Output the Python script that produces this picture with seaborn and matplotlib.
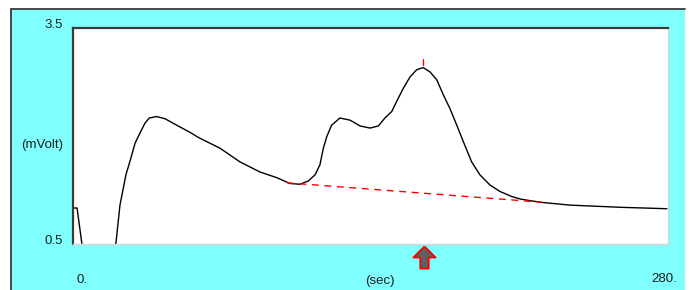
import matplotlib
matplotlib.use("Agg")
import matplotlib.pyplot as plt
import matplotlib.transforms as mtransforms
from matplotlib.path import Path
from matplotlib.lines import Line2D
import numpy as np
import pandas as pd
import seaborn as sns

# signal trace (sec, mVolt)
time_s = [0.0, 1.9, 4.2, 12.0, 20.2, 22.1, 24.9, 27.2, 29.2, 31.5, 33.9, 35.9,
          39.4, 43.3, 48.8, 55.1, 59.0, 69.2, 78.6, 88.0, 96.0, 102.1, 106.8,
          110.7, 113.9, 116.2, 117.8, 119.4, 121.7, 125.6, 130.4, 135.1, 139.8,
          143.7, 146.8, 150.0, 152.3, 155.4, 158.6, 161.7, 164.8, 168.0, 171.2,
          174.3, 177.4, 180.6, 183.7, 187.6, 191.5, 196.2, 200.9, 206.4, 210.4,
          219.8, 233.9, 257.4, 279.5]
signal_mv = [1.0, 1.0, 0.5, 0.1, 0.51, 1.04, 1.46, 1.69, 1.90, 2.04, 2.18, 2.25,
             2.27, 2.24, 2.15, 2.05, 1.98, 1.83, 1.64, 1.50, 1.42, 1.34, 1.33,
             1.375, 1.46, 1.60, 1.83, 1.99, 2.15, 2.25, 2.22, 2.14, 2.11,
             2.14, 2.25, 2.34, 2.48, 2.66, 2.82, 2.92, 2.95, 2.89, 2.78,
             2.57, 2.38, 2.15, 1.92, 1.64, 1.46, 1.32, 1.23, 1.16, 1.125,
             1.08, 1.04, 1.01, 0.99]

# integration baseline (start, end)
base_t = [100.7, 220.7]
base_mv = [1.35, 1.08]

x_range = [0, 280]
y_range = [0.5, 3.5]
x_labels = ["0.", "(sec)", "280."]
y_labels = ["3.5", "(mVolt)", "0.5"]

CYAN = "#80ffff"
DARK = "#3a3a3a"
TXT = "#1e1e1e"

sns.set_style("white")
plt.rcParams["font.family"] = ["Liberation Sans", "DejaVu Sans"]

W, H = 689, 290
fig = plt.figure(figsize=(W / 100, H / 100), dpi=100)
fig.patch.set_facecolor("white")

# cyan panel with dark left/top border
fig.patches.append(plt.Rectangle((11 / W, 0), (685 - 11) / W, (H - 9) / H,
                                 transform=fig.transFigure, facecolor=CYAN,
                                 edgecolor="none", zorder=-5))
fig.add_artist(Line2D([11 / W, 11 / W], [0, (H - 9) / H], color=DARK, lw=1.3,
                      transform=fig.transFigure))
fig.add_artist(Line2D([11 / W, 685 / W], [(H - 9) / H, (H - 9) / H], color=DARK,
                      lw=1.3, transform=fig.transFigure))

ax = fig.add_axes([73 / W, (H - 244) / H, 595 / W, 216 / H])
ax.set_zorder(1)
ax.set_facecolor("white")

df = pd.DataFrame({"t": time_s, "mv": signal_mv})
sns.lineplot(data=df, x="t", y="mv", color="black", lw=1.0, ax=ax)
sns.lineplot(x=base_t, y=base_mv, color="red", lw=1.0, ax=ax,
             linestyle=(0, (5, 4)))

# red peak tick above apex
pk = int(np.argmax(signal_mv))
ax.plot([time_s[pk], time_s[pk]], [signal_mv[pk] + 0.04, signal_mv[pk] + 0.12],
        color="red", lw=1.0)

ax.set_xlim(x_range)
ax.set_ylim(y_range)
ax.set_xticks([])
ax.set_yticks([])
ax.set_xlabel("")
ax.set_ylabel("")

for side in ["top", "left"]:
    ax.spines[side].set_color(DARK)
    ax.spines[side].set_linewidth(1.6)
for side in ["right", "bottom"]:
    ax.spines[side].set_color("#d6d6d6")
    ax.spines[side].set_linewidth(1.0)

# axis labels drawn like the instrument window
fs = 9.5
ytr = ax.transAxes
ax.text(-0.017, 1.012, y_labels[0], transform=ytr, ha="right", va="center",
        fontsize=fs, color=TXT)
ax.text(-0.017, 0.46, y_labels[1], transform=ytr, ha="right", va="center",
        fontsize=fs, color=TXT)
ax.text(-0.017, 0.012, y_labels[2], transform=ytr, ha="right", va="center",
        fontsize=fs, color=TXT)
ax.text(0.006, -0.165, x_labels[0], transform=ytr, ha="left", va="center",
        fontsize=fs, color=TXT)
ax.text(0.515, -0.17, x_labels[1], transform=ytr, ha="center", va="center",
        fontsize=fs, color=TXT)
ax.text(1.015, -0.16, x_labels[2], transform=ytr, ha="right", va="center",
        fontsize=fs, color=TXT)

# up-arrow marker under the peak
arrow = Path([(0, 1), (1, 0), (0.38, 0), (0.38, -1), (-0.38, -1), (-0.38, 0),
              (-1, 0), (0, 1)])
btr = mtransforms.blended_transform_factory(ax.transData, ax.transAxes)
ax.plot([time_s[pk] + 0.6], [-0.06], marker=arrow, markersize=16,
        markerfacecolor="#606060", markeredgecolor="red", markeredgewidth=1.3,
        transform=btr, clip_on=False, linestyle="none")

fig.savefig("out.png", dpi=100)
